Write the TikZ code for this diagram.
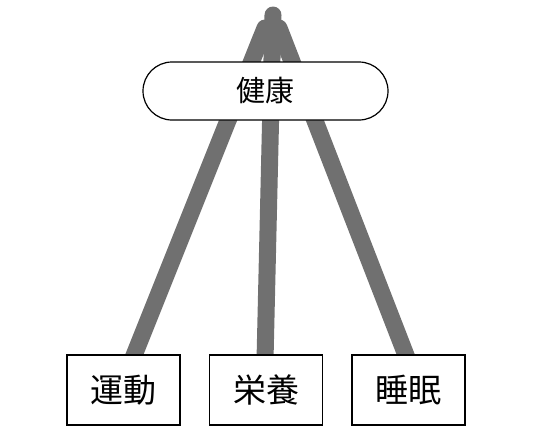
\documentclass[tikz,border=0pt]{standalone}
\usepackage{fontspec}
\newfontfamily\cjk{Noto Sans CJK JP}
\usetikzlibrary{backgrounds}
\definecolor{linkgray}{RGB}{112,112,112}
\tikzset{
  box/.style={draw=black, line width=1.2pt, fill=white, minimum width=113pt, minimum height=70pt, inner sep=0pt, font=\cjk\fontsize{33}{33}\selectfont},
  pill/.style={draw=black, line width=1.2pt, fill=white, rounded corners=29pt, minimum width=245pt, minimum height=58pt, inner sep=0pt, font=\cjk\fontsize{29}{29}\selectfont},
  link/.style={draw=linkgray, line width=17pt, line cap=round}
}
\begin{document}
\begin{tikzpicture}[x=1pt,y=-1pt]
\useasboundingbox (0,0) rectangle (540,437);
\node[pill] (h) at (265.5,91) {健康};
\node[box] (b1) at (123.5,390) {運動};
\node[box] (b2) at (266,390) {栄養};
\node[box] (b3) at (408.5,390) {睡眠};
\coordinate (t1) at (265,28);
\coordinate (t2) at (273,15);
\coordinate (t3) at (279,28);
\begin{scope}[on background layer]
\draw[link] ([xshift=8.5pt,yshift=-6pt]b1.north) -- (t1);
\draw[link] ([xshift=-1pt,yshift=-6pt]b2.north) -- (t2);
\draw[link] ([xshift=-0.5pt,yshift=-6pt]b3.north) -- (t3);
\end{scope}
\end{tikzpicture}
\end{document}
